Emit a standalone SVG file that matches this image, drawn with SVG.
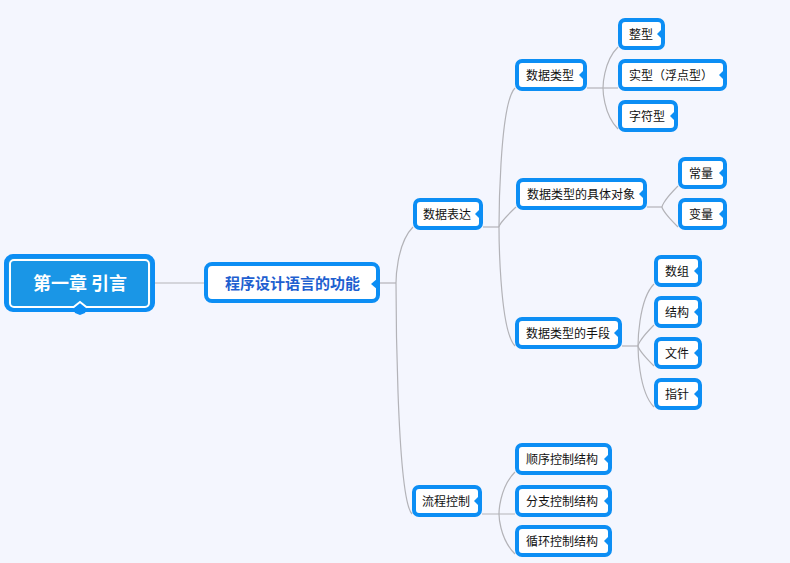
<svg xmlns="http://www.w3.org/2000/svg" width="790" height="563" viewBox="0 0 790 563">
<style>
.bg{fill:#f4f6fe}
.n rect{fill:#ffffff;stroke:#0c8ef4;stroke-width:4}
.n text{font-family:"Noto Sans CJK SC","Noto Sans",sans-serif;font-size:12px;fill:#111}
.notch{fill:#0c8ef4}
.c path{fill:none;stroke:#b3b3b8;stroke-width:1.2}
</style>
<rect class="bg" x="0" y="0" width="790" height="563"/>
<g class="c" id="connectors">
<path d="M155 283 H204"/>
<path d="M380 283 H396"/>
<path d="M396 283 C396 283 396 244 413 227"/>
<path d="M396 283 C396 283 396 497 412 514"/>
<path d="M483 227 H499"/>
<path d="M499 227 C499 227 499 104 515 88"/>
<path d="M499 227 C499 227 499 223 516 207"/>
<path d="M499 227 C499 227 499 330 515 346"/>
<path d="M587 88 H618"/>
<path d="M603 88 C603 88 603 62 618 47"/>
<path d="M603 88 C603 88 603 114 618 129"/>
<path d="M647 207 H662"/>
<path d="M662 207 C662 207 662 202 678 186"/>
<path d="M662 207 C662 207 662 211 678 227"/>
<path d="M622 346 H638"/>
<path d="M638 346 C638 346 638 300 654 284"/>
<path d="M638 346 C638 346 638 341 654 325"/>
<path d="M638 346 C638 346 638 350 654 366"/>
<path d="M638 346 C638 346 638 391 654 407"/>
<path d="M482 514 H515"/>
<path d="M499 514 C499 514 499 488 515 472"/>
<path d="M499 514 C499 514 499 538 515 554"/>
</g>
<g id="root">
<rect x="6" y="256" width="147" height="54" rx="7" fill="#1a96e6" stroke="#0c8ef4" stroke-width="4"/>
<rect x="10" y="260" width="139" height="47" rx="4" fill="none" stroke="#ffffff" stroke-width="2"/>
<polygon points="73,308.5 80,302 87,308.5 85,313 80,315 75,313" fill="#0c8ef4"/>
<polyline points="73,307.5 80,302 87,307.5" fill="none" stroke="#ffffff" stroke-width="2"/>
<text x="80" y="290" text-anchor="middle" font-family="'Noto Sans CJK SC',sans-serif" font-size="18" font-weight="bold" fill="#ffffff">第一章 引言</text>
</g>
<g id="n-main" class="n">
<rect x="206" y="264" width="172" height="37" rx="6"/>
<polygon class="notch" points="378,278 371,284 378,290"/>
<text x="225" y="289" style="font-size:15px;font-weight:bold;fill:#1e5fd0">程序设计语言的功能</text>
</g>
<g id="n-sjbd" class="n">
<rect x="415" y="200" width="66" height="28" rx="5"/>
<polygon class="notch" points="481,208 475,214 481,220"/>
<text x="423" y="219">数据表达</text>
</g>
<g id="n-lckz" class="n">
<rect x="414" y="487" width="66" height="28" rx="5"/>
<polygon class="notch" points="480,495 474,501 480,507"/>
<text x="422" y="506">流程控制</text>
</g>
<g id="n-sjlx" class="n">
<rect x="517" y="61" width="68" height="28" rx="5"/>
<polygon class="notch" points="585,69 579,75 585,81"/>
<text x="526" y="80">数据类型</text>
</g>
<g id="n-jtdx" class="n">
<rect x="518" y="180" width="127" height="28" rx="5"/>
<polygon class="notch" points="645,188 639,194 645,200"/>
<text x="527" y="199">数据类型的具体对象</text>
</g>
<g id="n-sd" class="n">
<rect x="517" y="319" width="103" height="28" rx="5"/>
<polygon class="notch" points="620,327 614,333 620,339"/>
<text x="526" y="338">数据类型的手段</text>
</g>
<g id="n-zx" class="n">
<rect x="620" y="20" width="43" height="28" rx="5"/>
<polygon class="notch" points="663,28 657,34 663,40"/>
<text x="629" y="39">整型</text>
</g>
<g id="n-sx" class="n">
<rect x="620" y="61" width="105" height="28" rx="5"/>
<polygon class="notch" points="725,69 719,75 725,81"/>
<text x="629" y="80">实型（浮点型）</text>
</g>
<g id="n-zfx" class="n">
<rect x="620" y="102" width="56" height="28" rx="5"/>
<polygon class="notch" points="676,110 670,116 676,122"/>
<text x="629" y="121">字符型</text>
</g>
<g id="n-cl" class="n">
<rect x="680" y="159" width="45" height="28" rx="5"/>
<polygon class="notch" points="725,167 719,173 725,179"/>
<text x="689" y="178">常量</text>
</g>
<g id="n-bl" class="n">
<rect x="680" y="200" width="45" height="28" rx="5"/>
<polygon class="notch" points="725,208 719,214 725,220"/>
<text x="689" y="219">变量</text>
</g>
<g id="n-sz" class="n">
<rect x="656" y="257" width="44" height="28" rx="5"/>
<polygon class="notch" points="700,265 694,271 700,277"/>
<text x="665" y="276">数组</text>
</g>
<g id="n-jg" class="n">
<rect x="656" y="298" width="44" height="28" rx="5"/>
<polygon class="notch" points="700,306 694,312 700,318"/>
<text x="665" y="317">结构</text>
</g>
<g id="n-wj" class="n">
<rect x="656" y="339" width="44" height="28" rx="5"/>
<polygon class="notch" points="700,347 694,353 700,359"/>
<text x="665" y="358">文件</text>
</g>
<g id="n-zz" class="n">
<rect x="656" y="380" width="44" height="28" rx="5"/>
<polygon class="notch" points="700,388 694,394 700,400"/>
<text x="665" y="399">指针</text>
</g>
<g id="n-sxkz" class="n">
<rect x="517" y="445" width="93" height="28" rx="5"/>
<polygon class="notch" points="610,453 604,459 610,465"/>
<text x="526" y="464">顺序控制结构</text>
</g>
<g id="n-fzkz" class="n">
<rect x="517" y="487" width="93" height="28" rx="5"/>
<polygon class="notch" points="610,495 604,501 610,507"/>
<text x="526" y="506">分支控制结构</text>
</g>
<g id="n-xhkz" class="n">
<rect x="517" y="527" width="93" height="28" rx="5"/>
<polygon class="notch" points="610,535 604,541 610,547"/>
<text x="526" y="546">循环控制结构</text>
</g>
</svg>
